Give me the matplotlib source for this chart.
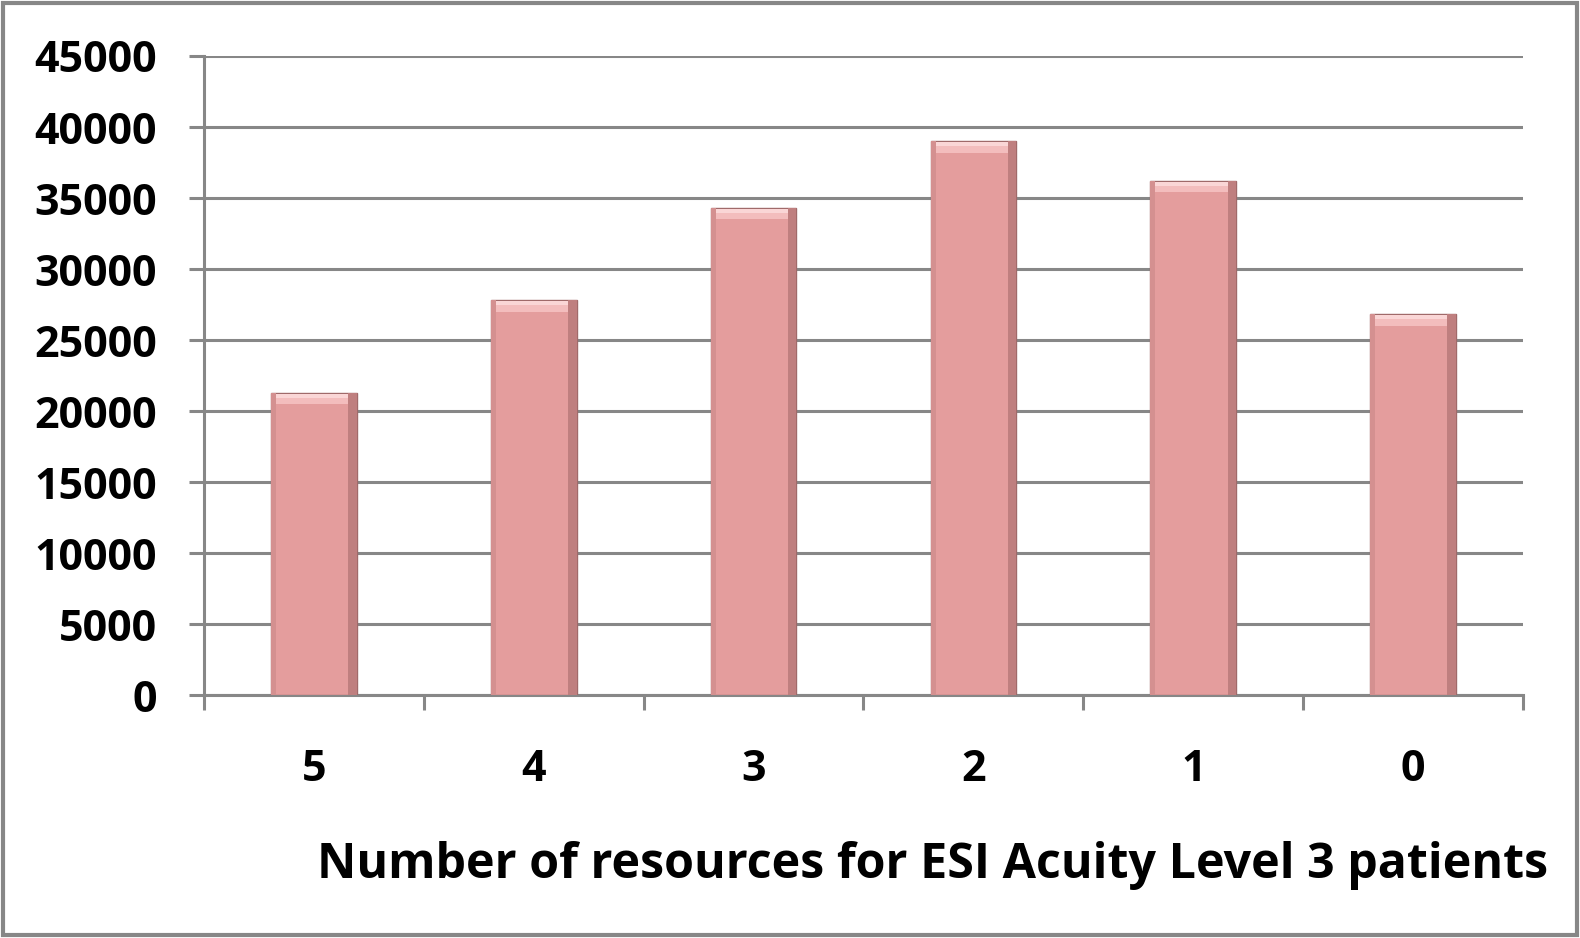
import numpy as np
import matplotlib
matplotlib.use("Agg")
import matplotlib.pyplot as plt
from matplotlib.patches import Rectangle

categories = ["5", "4", "3", "2", "1", "0"]
counts = [21300, 27800, 34300, 39000, 36200, 26800]
y_ticks = [0, 5000, 10000, 15000, 20000, 25000, 30000, 35000, 40000, 45000]
x_title = "Number of resources for ESI Acuity Level 3 patients"

plt.rcParams["font.family"] = ["Open Sans", "DejaVu Sans"]
plt.rcParams["font.weight"] = "bold"

GRID = "#878787"
FACE = "#E49D9D"

fig = plt.figure(figsize=(15.8, 9.38), dpi=100)
ax = fig.add_axes([0.1291, 0.259, 0.9639 - 0.1291, 0.9403 - 0.259])

x = np.arange(len(categories))
width = 0.39
vals = np.array(counts)
ax.bar(x, vals, width, color=FACE, edgecolor="#A06A6A", linewidth=1.0, zorder=3)
# bevel look: light band at the top, darker strip on the right, lighter on the left
top_h = 700
ax.bar(x, [top_h] * len(vals), width * 0.9, bottom=vals - top_h * 1.15,
       color="#F3BDBD", edgecolor="none", zorder=4)
ax.bar(x, [top_h * 0.4] * len(vals), width * 0.97, bottom=vals - top_h * 0.5,
       color="#FAD6D6", edgecolor="none", zorder=4)
ax.bar(x + width * 0.45, vals, width * 0.1, color="#BF7F7F", edgecolor="none", zorder=4)
ax.bar(x - width * 0.47, vals, width * 0.06, color="#D49090", edgecolor="none", zorder=4)

ax.set_xlim(-0.5, len(categories) - 0.5)
ax.set_ylim(0, 45000)
ax.set_yticks(y_ticks)
ax.set_yticklabels([str(v) for v in y_ticks], fontsize=31, fontweight="bold")
ax.set_xticks(x)
ax.set_xticklabels(categories, fontsize=31, fontweight="bold")
ax.set_xticks(np.arange(len(categories) + 1) - 0.5, minor=True)

ax.tick_params(axis="x", which="major", length=0, pad=38)
ax.tick_params(axis="x", which="minor", length=11, width=2.2, color=GRID, direction="out")
ax.tick_params(axis="y", length=11, width=2.2, color=GRID, direction="out", pad=23)

ax.yaxis.grid(True, color=GRID, linewidth=2.2, zorder=1)
ax.set_axisbelow(True)
for side in ["top", "right"]:
    ax.spines[side].set_visible(False)
for side in ["left", "bottom"]:
    ax.spines[side].set_color(GRID)
    ax.spines[side].set_linewidth(2.2)

fig.text(0.980, 0.077, x_title, ha="right", va="center", fontsize=34.8, fontweight="bold")

fig.patches.append(Rectangle((0.002, 0.003), 0.996, 0.994, transform=fig.transFigure,
                             fill=False, edgecolor=GRID, linewidth=3))

fig.savefig("out.png", dpi=100)
